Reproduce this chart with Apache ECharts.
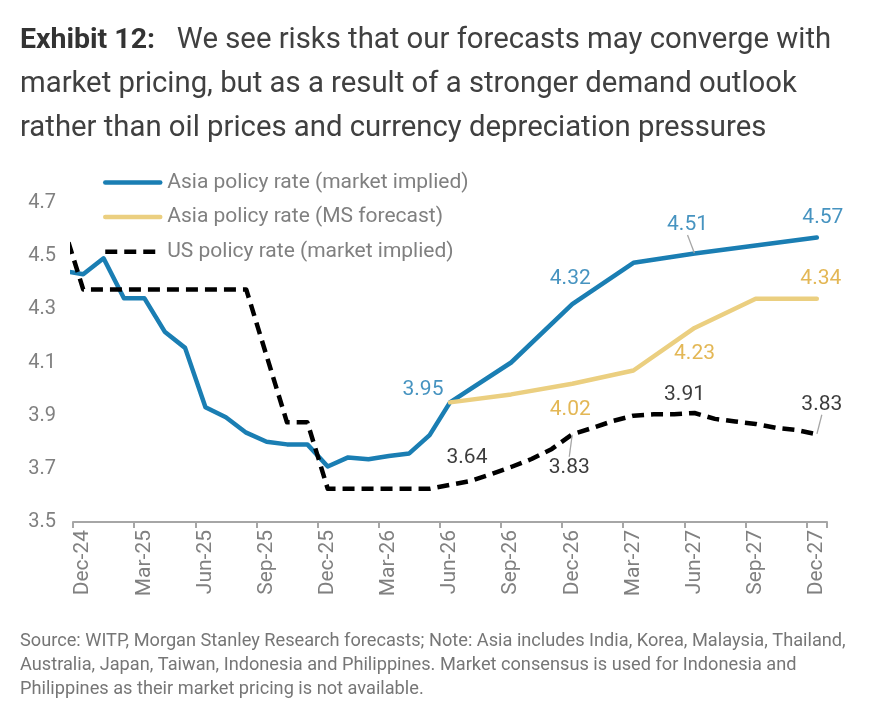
<!DOCTYPE html>
<html>
<head>
<meta charset="utf-8">
<script src="https://cdn.jsdelivr.net/npm/echarts@6/dist/echarts.min.js"></script>
<style>
html,body{margin:0;padding:0;background:#fff;}
#chart{width:879px;height:725px;}
</style>
</head>
<body>
<div id="chart"></div>
<script>
// Month before the axis start (clipped) followed by the axis categories
const allMonths = ['Nov-24','Dec-24','Jan-25','Feb-25','Mar-25','Apr-25','May-25','Jun-25','Jul-25','Aug-25','Sep-25','Oct-25','Nov-25','Dec-25','Jan-26','Feb-26','Mar-26','Apr-26','May-26','Jun-26','Jul-26','Aug-26','Sep-26','Oct-26','Nov-26','Dec-26','Jan-27','Feb-27','Mar-27','Apr-27','May-27','Jun-27','Jul-27','Aug-27','Sep-27','Oct-27','Nov-27','Dec-27'];
const categories = allMonths.slice(1);

const asiaMarket = [4.445,4.432,4.492,4.342,4.342,4.216,4.155,3.932,3.894,3.836,3.802,3.792,3.792,3.709,3.743,3.736,3.748,3.758,3.827,3.95,null,null,4.10,null,null,4.32,null,null,4.475,null,null,4.51,null,null,4.54,null,null,4.57];
const asiaMS = [null,null,null,null,null,null,null,null,null,null,null,null,null,null,null,null,null,null,null,3.95,null,null,3.98,null,null,4.02,null,null,4.07,null,null,4.23,null,null,4.34,null,null,4.34];
const usMarket = [4.62,4.375,4.375,4.375,4.375,4.375,4.375,4.375,4.375,4.375,4.125,3.875,3.875,3.625,3.625,3.625,3.625,3.625,3.625,3.64,3.654,3.68,3.707,3.737,3.775,3.83,3.854,3.88,3.90,3.905,3.905,3.91,3.888,3.878,3.869,3.854,3.846,3.83];

const yTicks = [3.5, 3.7, 3.9, 4.1, 4.3, 4.5, 4.7];

// labelled months per series
const asiaMarketLabelled = ['Jun-26','Dec-26','Jun-27','Dec-27'];
const asiaMSLabelled = ['Dec-26','Jun-27','Dec-27'];
const usLabelled = ['Jun-26','Dec-26','Jun-27','Dec-27'];

const BLUE = '#1a7eb3', BLUE_TXT = '#1878b0';
const YEL = '#ebcf80', YEL_TXT = '#dca52a';
const BLK = '#000000', BLK_TXT = '#0a0a0a';
const FONT = 'Roboto, "Noto Sans", sans-serif';

function toPoints(vals) {
  return allMonths.map((m, i) => [i - 1, vals[i]]).filter(d => d[1] != null);
}
function labelPoints(vals, months, leaders) {
  return months.map(m => {
    const i = allMonths.indexOf(m);
    const item = { value: [i - 1, vals[i]] };
    if (leaders.indexOf(m) >= 0) item.labelLine = { show: true };
    return item;
  });
}
function labelSeries(name, vals, months, leaders, color, offsets) {
  return {
    name: name, type: 'scatter', xAxisIndex: 1, yAxisIndex: 0,
    symbol: 'circle', symbolSize: 1,
    itemStyle: { color: 'transparent' },
    silent: true, z: 10,
    data: labelPoints(vals, months, leaders),
    label: {
      show: true, position: 'inside', color: color, fontSize: 21, fontFamily: FONT,
      textBorderWidth: 0,
      formatter: p => p.value[1].toFixed(2)
    },
    labelLine: { show: false, lineStyle: { color: '#a6a6a6', width: 1.3 } },
    labelLayout: p => ({ dx: offsets[p.dataIndex][0], dy: offsets[p.dataIndex][1] })
  };
}

const chart = echarts.init(document.getElementById('chart'));
chart.setOption({
  animation: false,
  backgroundColor: '#ffffff',
  title: [
    {
      left: 20, top: 19, padding: 0,
      text: '{b|Exhibit 12:}   We see risks that our forecasts may converge with\nmarket pricing, but as a result of a stronger demand outlook\nrather than oil prices and currency depreciation pressures',
      textStyle: {
        fontFamily: FONT, fontSize: 29.3, fontWeight: 'normal', color: '#404040', lineHeight: 44,
        rich: { b: { fontFamily: FONT, fontSize: 28.5, fontWeight: 'bold', color: '#333333', lineHeight: 44 } }
      }
    },
    {
      left: 20, top: 629, padding: 0,
      text: 'Source: WITP, Morgan Stanley Research forecasts; Note: Asia includes India, Korea, Malaysia, Thailand,\nAustralia, Japan, Taiwan, Indonesia and Philippines. Market consensus is used for Indonesia and\nPhilippines as their market pricing is not available.',
      textStyle: { fontFamily: FONT, fontSize: 18.2, fontWeight: 'normal', color: '#767676', lineHeight: 24 }
    }
  ],
  legend: {
    orient: 'vertical', left: 103, top: 172, padding: 0,
    itemWidth: 55, itemHeight: 20, itemGap: 13.6,
    data: ['Asia policy rate (market implied)', 'Asia policy rate (MS forecast)', 'US policy rate (market implied)'],
    textStyle: { fontFamily: FONT, fontSize: 21, color: '#808080', lineHeight: 20, padding: [0, 0, 0, 2] },
    lineStyle: { width: 'inherit' },
    itemStyle: { color: 'transparent', borderWidth: 0, opacity: 0 },
    selectedMode: false
  },
  grid: { left: 73, right: 52, top: 203, bottom: 203, containLabel: false },
  xAxis: [
    {
      type: 'category', data: categories, boundaryGap: true, position: 'bottom',
      axisLine: { show: true, lineStyle: { color: '#a6a6a6', width: 2 } },
      axisTick: { show: true, interval: 2, length: 6, lineStyle: { color: '#a6a6a6', width: 2 } },
      axisLabel: { interval: 2, rotate: 90, fontFamily: FONT, fontSize: 21, color: '#808080', margin: 8 },
      splitLine: { show: false }
    },
    { type: 'value', min: -0.5, max: 36.5, show: false }
  ],
  yAxis: {
    type: 'value', min: yTicks[0], max: yTicks[yTicks.length - 1], interval: 0.2,
    axisLine: { show: false }, axisTick: { show: false }, splitLine: { show: false },
    axisLabel: { fontFamily: FONT, fontSize: 20, color: '#808080', margin: 17, formatter: v => v.toFixed(1) }
  },
  series: [
    {
      name: 'Asia policy rate (market implied)', type: 'line', xAxisIndex: 1,
      data: toPoints(asiaMarket), symbol: 'none', z: 2,
      lineStyle: { color: BLUE, width: 4.5, cap: 'round', join: 'round' },
      itemStyle: { color: BLUE }
    },
    {
      name: 'Asia policy rate (MS forecast)', type: 'line', xAxisIndex: 1,
      data: toPoints(asiaMS), symbol: 'none', z: 3,
      lineStyle: { color: YEL, width: 4.5, cap: 'round', join: 'round' },
      itemStyle: { color: YEL }
    },
    {
      name: 'US policy rate (market implied)', type: 'line', xAxisIndex: 1,
      data: toPoints(usMarket), symbol: 'none', z: 4,
      lineStyle: { color: BLK, width: 4.5, type: [12, 7], cap: 'butt', join: 'round' },
      itemStyle: { color: BLK }
    },
    labelSeries('lbl-asia', asiaMarket, asiaMarketLabelled, ['Jun-27'], BLUE_TXT, [[-27, -13], [-2, -25], [-7, -29], [6, -20]]),
    labelSeries('lbl-ms', asiaMS, asiaMSLabelled, [], YEL_TXT, [[-2, 26], [0, 26], [4, -20]]),
    labelSeries('lbl-us', usMarket, usLabelled, ['Dec-26', 'Dec-27'], BLK_TXT, [[17, -27], [-3, 33], [-10, -18], [5, -30]])
  ]
});
</script>
</body>
</html>
